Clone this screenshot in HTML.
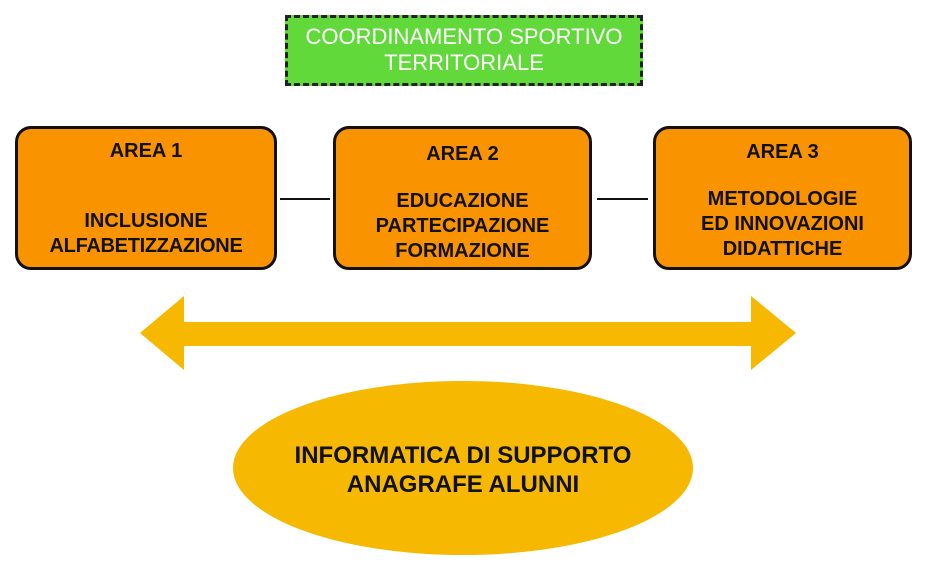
<!DOCTYPE html>
<html><head><meta charset="utf-8"><style>
body{margin:0;width:929px;height:574px;background:#fff;position:relative;overflow:hidden;font-family:"Liberation Sans",Arial,sans-serif}
.g{position:absolute;left:285px;top:15px;width:352px;background:#62d93a;border:3px dashed #222;color:#fff;font-size:22px;text-align:center;line-height:26px;padding-top:6px;height:59px}
.b{position:absolute;top:126px;height:138px;background:#fa9300;border:3px solid #111;border-radius:16px;font-weight:bold;font-size:20px;text-align:center;color:#111;line-height:25px}
.l{position:absolute;height:2px;background:#111;top:198px}
</style></head><body>
<div class="g">COORDINAMENTO SPORTIVO<br>TERRITORIALE</div>
<div class="b" style="left:15px;width:256px"><div style="margin-top:10px">AREA 1</div><div style="margin-top:45px">INCLUSIONE<br><span style="letter-spacing:-0.3px">ALFABETIZZAZIONE</span></div></div>
<div class="b" style="left:333px;width:253px"><div style="margin-top:13px">AREA 2</div><div style="margin-top:22px">EDUCAZIONE<br>PARTECIPAZIONE<br>FORMAZIONE</div></div>
<div class="b" style="left:653px;width:253px"><div style="margin-top:11px">AREA 3</div><div style="margin-top:22px">METODOLOGIE<br>ED INNOVAZIONI<br>DIDATTICHE</div></div>
<div class="l" style="left:280px;width:50px"></div>
<div class="l" style="left:597px;width:51px"></div>
<svg width="929" height="574" style="position:absolute;left:0;top:0">
<polygon points="140,333 184,296 184,322 751,322 751,296 796,333 751,370 751,346 184,346 184,370" fill="#f6b800"/>
<ellipse cx="463" cy="468" rx="230" ry="87" fill="#f6b800"/>
<text x="463" y="463" text-anchor="middle" font-family="Liberation Sans,Arial,sans-serif" font-weight="bold" font-size="24" fill="#111">INFORMATICA DI SUPPORTO</text>
<text x="463" y="492" text-anchor="middle" font-family="Liberation Sans,Arial,sans-serif" font-weight="bold" font-size="24" fill="#111">ANAGRAFE ALUNNI</text>
</svg>
</body></html>
